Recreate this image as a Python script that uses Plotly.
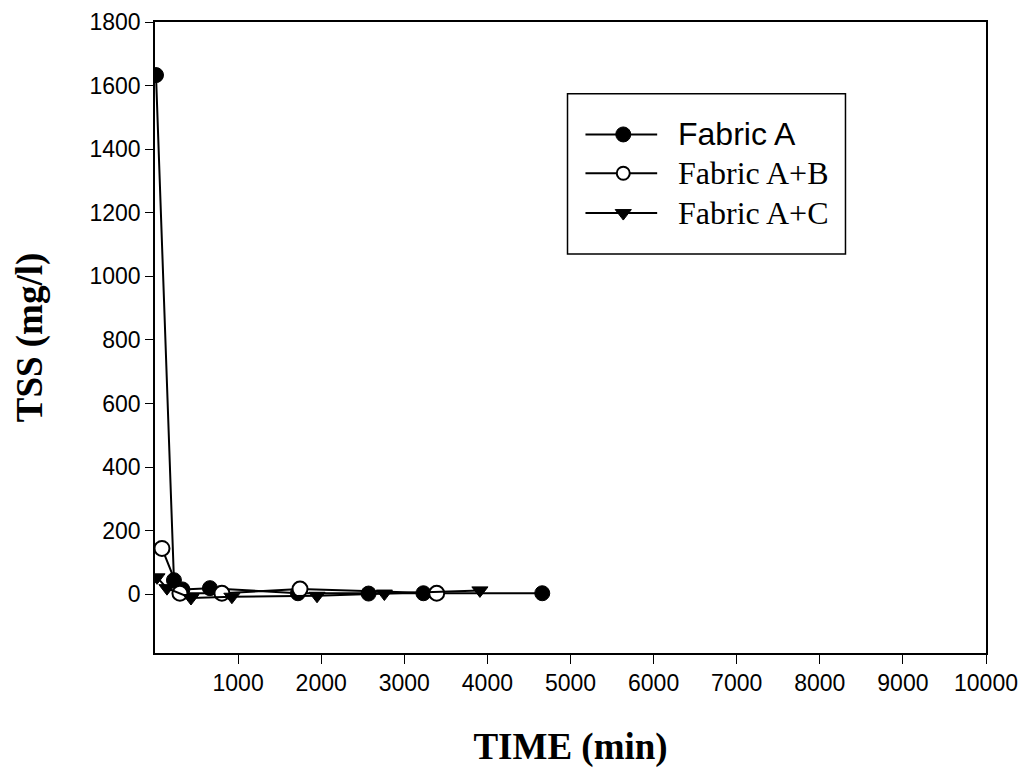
import plotly.graph_objects as go

# Data
a_time = [12, 228, 330, 661, 1720, 2570, 3230, 4660]
a_tss = [1633, 44, 15, 19, 3, 2, 3, 3]

ab_time = [84, 300, 805, 1745, 3390]
ab_tss = [144, 3, 3, 16, 3]

ac_time = [24, 144, 433, 925, 1950, 2760, 3910]
ac_tss = [53, 19, -12, -8, -5, 2, 12]

series_names = ["Fabric A", "Fabric A+B", "Fabric A+C"]

x_ticks = [1000, 2000, 3000, 4000, 5000, 6000, 7000, 8000, 9000, 10000]
y_ticks = [0, 200, 400, 600, 800, 1000, 1200, 1400, 1600, 1800]

SANS = "Liberation Sans, Arial, sans-serif"
SERIF = "Liberation Serif, Times New Roman, serif"

styles = [
    dict(symbol="circle", size=15, color="black", line=dict(color="black", width=1)),
    dict(symbol="circle", size=15, color="white", line=dict(color="black", width=2)),
    dict(symbol="triangle-down", size=14, color="black", line=dict(color="black", width=1)),
]
legend_marker_sizes = [15, 13, 14]
legend_fonts = [SANS, SERIF, SERIF]

fig = go.Figure()
for xs, ys, name, st in zip([a_time, ab_time, ac_time], [a_tss, ab_tss, ac_tss], series_names, styles):
    fig.add_trace(go.Scatter(
        x=xs, y=ys, mode="lines+markers", name=name, showlegend=False,
        line=dict(color="black", width=2), marker=st,
    ))

# Hand-drawn legend (longer sample lines, as in the reference)
row_y = [0.8218, 0.7603, 0.6972]
lx0, lxm, lx1, tx = 0.518, 0.5635, 0.6043, 0.6271
for ry, name, st, ms, fam in zip(row_y, series_names, styles, legend_marker_sizes, legend_fonts):
    fig.add_trace(go.Scatter(
        x=[lx0, lx1], y=[ry, ry], mode="lines", showlegend=False,
        xaxis="x2", yaxis="y2", hoverinfo="skip",
        line=dict(color="black", width=2),
    ))
    m = dict(st)
    m["size"] = ms
    fig.add_trace(go.Scatter(
        x=[lxm], y=[ry], mode="markers", showlegend=False,
        xaxis="x2", yaxis="y2", hoverinfo="skip", marker=m,
    ))
    fig.add_annotation(
        x=tx, y=ry, xref="x2", yref="y2", text=name, showarrow=False,
        xanchor="left", yanchor="middle",
        font=dict(family=fam, size=32, color="black"),
    )
fig.add_shape(type="rect", xref="x2", yref="y2", x0=0.4964, x1=0.8309, y0=0.6325, y1=0.8864,
              line=dict(color="black", width=1.5), fillcolor="rgba(0,0,0,0)")

fig.update_layout(
    width=1027, height=774,
    margin=dict(l=147, r=49, t=14, b=129),
    paper_bgcolor="white", plot_bgcolor="white",
    showlegend=False,
    xaxis=dict(
        range=[0, 10000], tickvals=x_ticks, ticktext=[str(v) for v in x_ticks],
        showgrid=False, zeroline=False, showline=True, linecolor="black", linewidth=1.5,
        mirror=True, ticks="outside", ticklen=9, tickcolor="black", automargin="bottom",
        ticklabeloverflow="allow",
        tickfont=dict(family=SANS, size=23, color="black"),
        title=dict(text="<b>TIME (min)</b>", standoff=38,
                   font=dict(family=SERIF, size=37, color="black")),
    ),
    yaxis=dict(
        range=[-185, 1800], tickvals=y_ticks, ticktext=[str(v) for v in y_ticks],
        showgrid=False, zeroline=False, showline=True, linecolor="black", linewidth=1.5,
        mirror=True, ticks="outside", ticklen=8, tickcolor="black", automargin="left",
        ticklabeloverflow="allow",
        tickfont=dict(family=SANS, size=23, color="black"),
        title=dict(text="<b>TSS (mg/l)</b>", standoff=36,
                   font=dict(family=SERIF, size=37, color="black")),
    ),
    xaxis2=dict(overlaying="x", range=[0, 1], visible=False, fixedrange=True),
    yaxis2=dict(overlaying="y", range=[0, 1], visible=False, fixedrange=True),
)

fig.write_html("out.html")
